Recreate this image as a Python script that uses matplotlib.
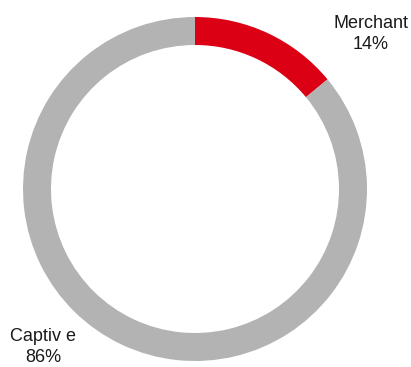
import matplotlib.pyplot as plt

# data
categories = ['Merchant', 'Captiv e']
shares = [14, 86]
colors = ['#DC0014', '#B3B3B3']

plt.rcParams['font.family'] = ['Liberation Sans', 'DejaVu Sans']

fig = plt.figure(figsize=(4.11, 3.67), dpi=100)
ax = fig.add_axes([0, 0, 1, 1])

# pixel-like coordinates, y up
cx, cy, r = 195, 367 - 189, 172
ax.pie(shares, colors=colors, startangle=90, counterclock=False,
       center=(cx, cy), radius=r,
       wedgeprops=dict(width=28, edgecolor='none'))
ax.set_xlim(0, 411)
ax.set_ylim(0, 367)
ax.set_aspect('equal')
ax.axis('off')

ax.text(371, 367 - 34, f'{categories[0]}\n{shares[0]}%', ha='center', va='center',
        fontsize=13, color='#1a1a1a', linespacing=1.25)
ax.text(43, 367 - 347, f'{categories[1]}\n{shares[1]}%', ha='center', va='center',
        fontsize=13, color='#1a1a1a', linespacing=1.25)

fig.savefig('out.png', dpi=100)
